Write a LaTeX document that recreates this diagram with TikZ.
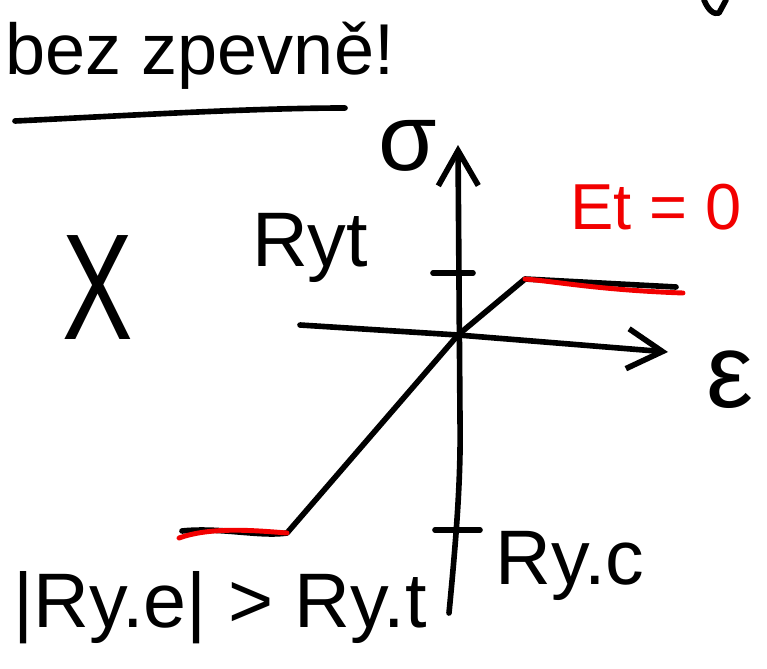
\documentclass[tikz,border=0pt]{standalone}
\usepackage{fontspec}
\setmainfont{Liberation Sans}
\usepackage{xcolor}
\usetikzlibrary{arrows.meta}
\definecolor{penred}{HTML}{F20000}

\begin{document}
\begin{tikzpicture}[x=0.02cm, y=-0.02cm,
  ink/.style={line width=3.2pt, line cap=round, line join=round},
  redink/.style={line width=2.8pt, line cap=round, penred},
  axisarrow/.style={ink, -{Straight Barb[length=7mm, width=8mm, line width=3.2pt]}},
  lbl/.style={inner sep=0pt, font=\fontsize{44}{48}\selectfont}
]
  \useasboundingbox (0,0) rectangle (767,669);
  % title
  \node[lbl, font=\fontsize{41}{44}\selectfont] (title) at (200,56) {bez zpevně!};
  \draw[ink] (15,121) .. controls (120,116) and (250,108) .. (345,108);
  \draw[ink] (704,0) .. controls (708,10) and (714,15) .. (719,13) -- (726,0);
  % axes
  \coordinate (O) at (458,335);
  \coordinate (sig) at (458,145);
  \coordinate (eps) at (668,352);
  \draw[axisarrow] (449,613) .. controls (456,540) and (461,480) .. (460,420) -- (sig);
  \draw[axisarrow] (300,325) -- (O) -- (eps);
  \draw[ink] (433,273) -- (473,273);
  \draw[ink] (435,530) -- (480,530);
  % stress-strain line
  \coordinate (yc) at (287,533);
  \coordinate (yt) at (525,279);
  \draw[ink] (182,531) .. controls (220,527) and (260,537) .. (yc) -- (O) -- (yt) -- (676,287);
  \draw[redink] (179,538) .. controls (210,527) and (250,530) .. (yc);
  \draw[redink] (yt) .. controls (560,282) and (600,290) .. (683,293);
  % labels
  \node[lbl, font=\fontsize{54}{54}\selectfont] (sigma) at (408,146) {σ};
  \node[lbl, font=\fontsize{60}{60}\selectfont] (epsilon) at (730,380) {ε};
  \node[lbl, font=\fontsize{86}{86}\selectfont] (cross) at (98,288) {\scalebox{0.7}[1]{X}};
  \node[lbl] (ryt) at (310,248) {Ryt};
  \node[lbl, text=penred, font=\fontsize{37}{40}\selectfont] (et) at (656,207) {Et = 0};
  \node[lbl] (cond) at (220,608) {|Ry.e| > Ry.t};
  \node[lbl] (ryc) at (570,566) {Ry.c};
\end{tikzpicture}
\end{document}
